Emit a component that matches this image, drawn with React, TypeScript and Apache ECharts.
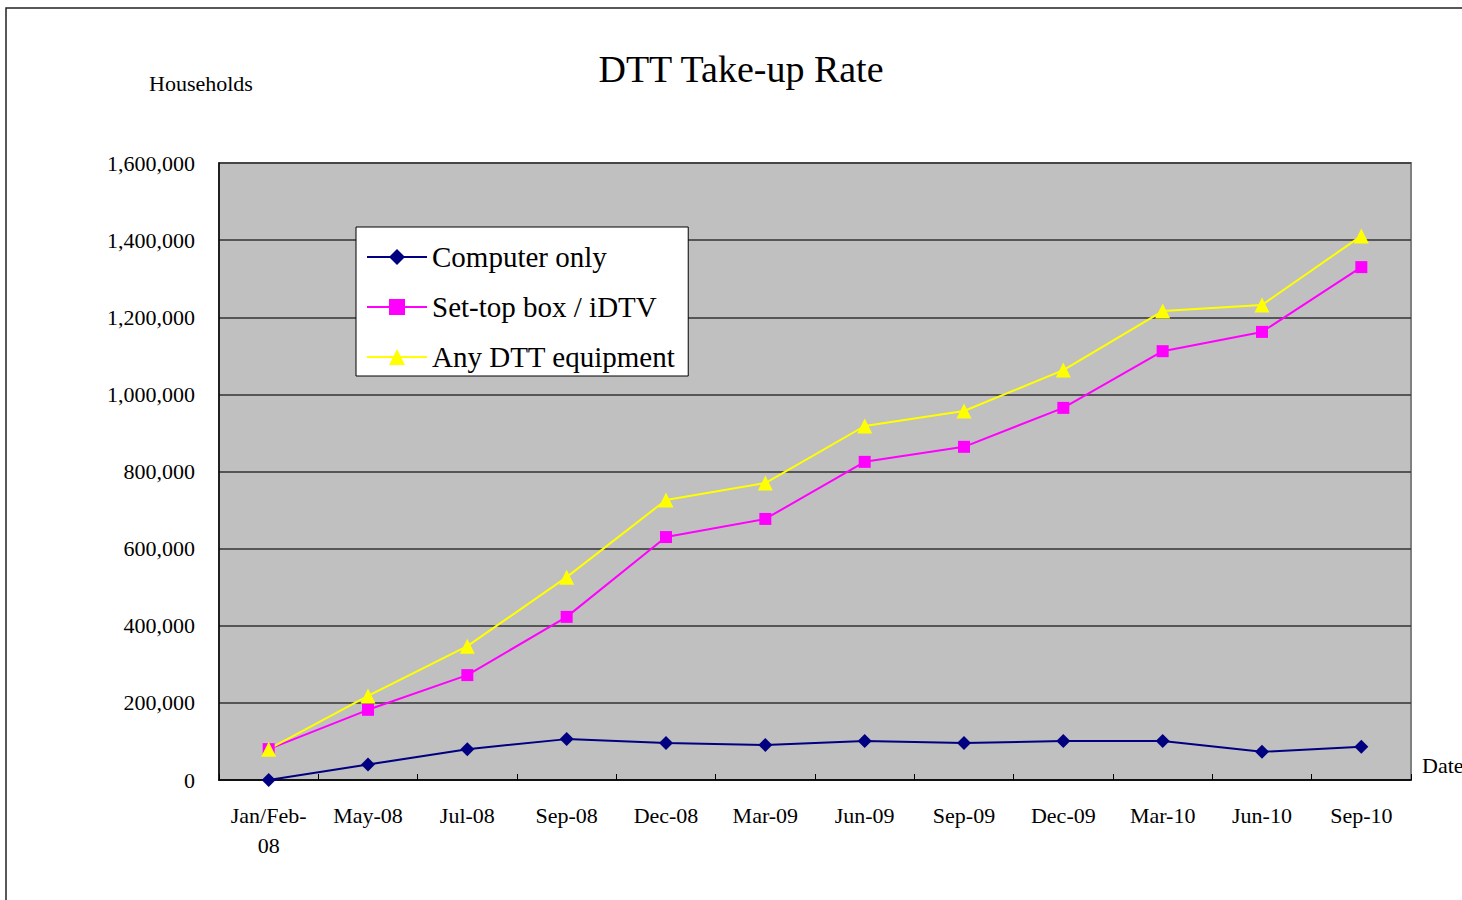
import React, { useEffect, useRef } from "react";
import * as echarts from "echarts";

const categories = [
  "Jan/Feb-\n08", "May-08", "Jul-08", "Sep-08", "Dec-08", "Mar-09",
  "Jun-09", "Sep-09", "Dec-09", "Mar-10", "Jun-10", "Sep-10",
];
const computerOnly = [0, 40000, 80000, 106000, 96000, 91000, 101000, 96000, 101000, 101000, 73000, 86000];
const setTopBox = [80000, 182000, 272000, 423000, 630000, 677000, 825000, 864000, 965000, 1112000, 1162000, 1330000];
const anyDtt = [80000, 218000, 347000, 526000, 726000, 770000, 918000, 957000, 1063000, 1216000, 1232000, 1411000];
const seriesNames = ["Computer only", "Set-top box / iDTV", "Any DTT equipment"];
const yMin = 0;
const yMax = 1600000;
const yInterval = 200000;

const FONT = "'Liberation Serif', 'DejaVu Serif', serif";

export default function App() {
  const ref = useRef<HTMLDivElement>(null);
  useEffect(() => {
    if (!ref.current) return;
    const chart = echarts.init(ref.current, undefined, { renderer: "svg" });
    chart.setOption({
      animation: false,
      backgroundColor: "#ffffff",
      textStyle: { fontFamily: FONT },
      title: {
        text: "DTT Take-up Rate",
        left: 736,
        top: 45,
        textAlign: "center",
        textStyle: { fontFamily: FONT, fontSize: 38, fontWeight: "normal", color: "#000" },
      },
      graphic: [
        {
          type: "rect",
          shape: { x: 6, y: 8, width: 2000, height: 2000 },
          style: { fill: "none", stroke: "#222", lineWidth: 1.5 },
          silent: true,
        },
        {
          type: "text",
          x: 149,
          y: 83,
          style: { text: "Households", font: `22px ${FONT}`, fill: "#000", textVerticalAlign: "middle" },
        },
        {
          type: "text",
          x: 1422,
          y: 765,
          style: { text: "Date", font: `22px ${FONT}`, fill: "#000", textVerticalAlign: "middle" },
        },
      ],
      legend: {
        orient: "vertical",
        left: 356,
        top: 227,
        data: seriesNames,
        backgroundColor: "#ffffff",
        borderColor: "#000",
        borderWidth: 1,
        padding: [15, 13, 4, 10],
        itemWidth: 60,
        itemHeight: 20,
        itemGap: 20,
        borderRadius: 0,
        textStyle: { fontFamily: FONT, fontSize: 29, color: "#000", lineHeight: 30 },
      },
      grid: {
        left: 219,
        top: 163,
        width: 1192,
        height: 617,
        show: true,
        backgroundColor: "#C0C0C0",
        borderColor: "#808080",
        borderWidth: 2,
      },
      xAxis: {
        type: "category",
        data: categories,
        boundaryGap: true,
        axisLine: { show: true, lineStyle: { color: "#000", width: 1.5 } },
        axisTick: { show: true, inside: true, length: 6, lineStyle: { color: "#000" } },
        axisLabel: {
          interval: 0,
          margin: 20,
          fontFamily: FONT,
          fontSize: 22,
          color: "#000",
          lineHeight: 30,
        },
        splitLine: { show: false },
      },
      yAxis: {
        type: "value",
        min: yMin,
        max: yMax,
        interval: yInterval,
        axisLine: { show: true, lineStyle: { color: "#000", width: 1.5 } },
        axisTick: { show: false },
        axisLabel: {
          margin: 24,
          fontFamily: FONT,
          fontSize: 22,
          color: "#000",
          formatter: (v: number) => v.toLocaleString("en-US"),
        },
        splitLine: { show: true, lineStyle: { color: "#333", width: 1.5 } },
      },
      series: [
        {
          name: seriesNames[0],
          type: "line",
          data: computerOnly,
          symbol: "diamond",
          symbolSize: 14,
          lineStyle: { color: "#000080", width: 2 },
          itemStyle: { color: "#000080" },
        },
        {
          name: seriesNames[1],
          type: "line",
          data: setTopBox,
          symbol: "rect",
          symbolSize: 12,
          lineStyle: { color: "#FF00FF", width: 2 },
          itemStyle: { color: "#FF00FF" },
        },
        {
          name: seriesNames[2],
          type: "line",
          data: anyDtt,
          symbol: "triangle",
          symbolSize: 15,
          lineStyle: { color: "#FFFF00", width: 2 },
          itemStyle: { color: "#FFFF00" },
        },
      ],
    });
    return () => chart.dispose();
  }, []);
  return (
    <div
      ref={ref}
      style={{ position: "absolute", left: 0, top: 0, width: 1462, height: 900 }}
    />
  );
}
